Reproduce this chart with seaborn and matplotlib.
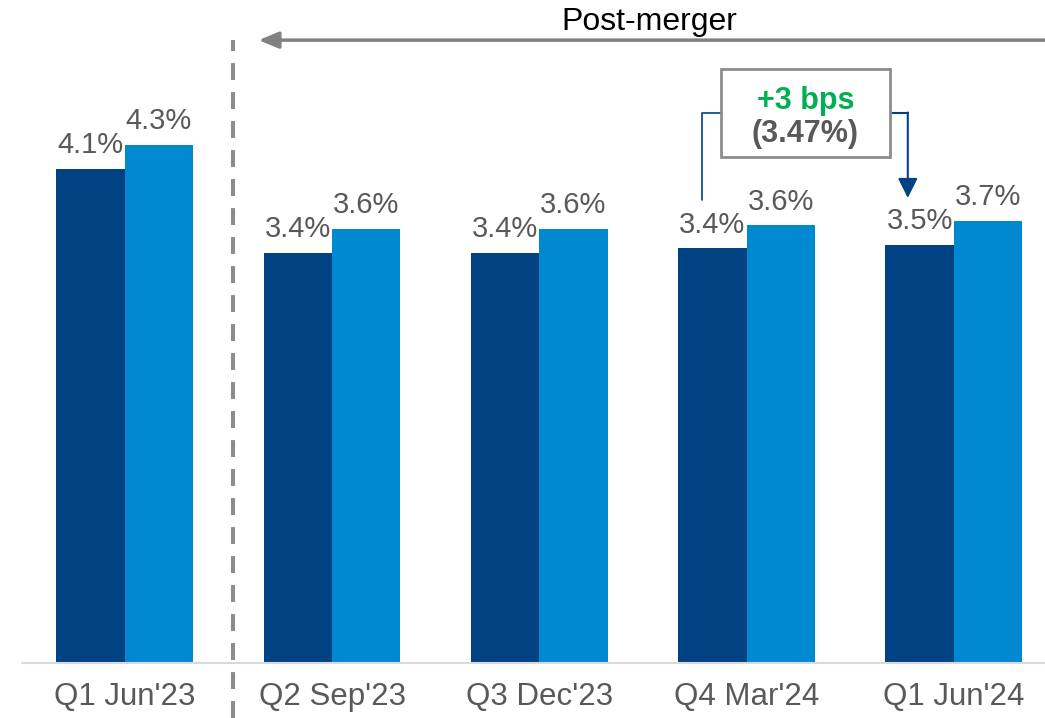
import pandas as pd
import seaborn as sns
import matplotlib.pyplot as plt
from matplotlib.patches import Rectangle

sns.set_style("white")
plt.rcParams['font.family'] = ['Liberation Sans', 'DejaVu Sans']

# data
quarters = ["Q1 Jun'23", "Q2 Sep'23", "Q3 Dec'23", "Q4 Mar'24", "Q1 Jun'24"]
series_a = [4.10, 3.40, 3.40, 3.44, 3.47]
series_b = [4.30, 3.60, 3.60, 3.63, 3.67]
series_names = ["Series A", "Series B"]

df = pd.DataFrame({
    'quarter': quarters * 2,
    'series': [series_names[0]] * len(quarters) + [series_names[1]] * len(quarters),
    'value': series_a + series_b,
})

DARK = '#004282'
LIGHT = '#0089D1'
GREY_TXT = '#595959'

fig = plt.figure(figsize=(10.45, 7.18), dpi=100)
ax = fig.add_axes([0, 55 / 718, 1, 663 / 718])

sns.barplot(data=df, x='quarter', y='value', hue='series',
            palette=[DARK, LIGHT], width=0.66, legend=False, ax=ax,
            saturation=1, edgecolor='none')

for container in ax.containers:
    ax.bar_label(container, fmt=lambda v: f'{v:.1f}%', padding=7,
                 fontsize=21, color=GREY_TXT)

ax.set_xlim(-0.602, 4.44)
ax.set_ylim(0, 5.5)
ax.set_xlabel('')
ax.set_ylabel('')
ax.set_yticks([])
sns.despine(ax=ax, left=True, bottom=True)
ax.tick_params(axis='x', length=0, pad=14, labelsize=22.5, labelcolor=GREY_TXT)

# baseline
ax.axhline(0, xmin=22 / 1045, xmax=1, color='#D9D9D9', lw=1.5, clip_on=False)

# pre/post merger divider
ax.axvline(0.52, ymin=-55 / 663, ymax=(663 - 40) / 663, color='#8C8C8C',
           lw=2.9, ls=(0, (4.2, 3)), clip_on=False)

# post-merger arrow
ax.annotate('', xy=(0.646, 5.167), xytext=(4.44, 5.167),
            arrowprops=dict(arrowstyle='-|>,head_length=0.6,head_width=0.25',
                            color='#808080', lw=2.5, mutation_scale=20,
                            shrinkA=0, shrinkB=0))
ax.text(2.53, 5.317, 'Post-merger', fontsize=23, color='black',
        ha='center', va='center')

# callout box
ax.add_patch(Rectangle((2.877, 4.2), 3.692 - 2.877, 4.925 - 4.2,
                       facecolor='white', edgecolor='#8C8C8C', lw=2, zorder=5))
ax.text(3.284, 4.665, '+3 bps', fontsize=22, fontweight='bold',
        color='#00B050', ha='center', va='center', zorder=6)
ax.text(3.284, 4.39, '(3.47%)', fontsize=22, fontweight='bold',
        color=GREY_TXT, ha='center', va='center', zorder=6)

# connectors
ax.plot([2.786, 2.786, 2.877], [3.842, 4.5667, 4.5667], color=DARK, lw=1.2)
ax.plot([3.692, 3.778], [4.5667, 4.5667], color=DARK, lw=1.5)
ax.annotate('', xy=(3.778, 3.858), xytext=(3.778, 4.5667),
            arrowprops=dict(arrowstyle='-|>,head_length=0.6,head_width=0.3',
                            color=DARK, lw=1.5, mutation_scale=20,
                            shrinkA=0, shrinkB=0))

plt.savefig('out.png', dpi=100)
